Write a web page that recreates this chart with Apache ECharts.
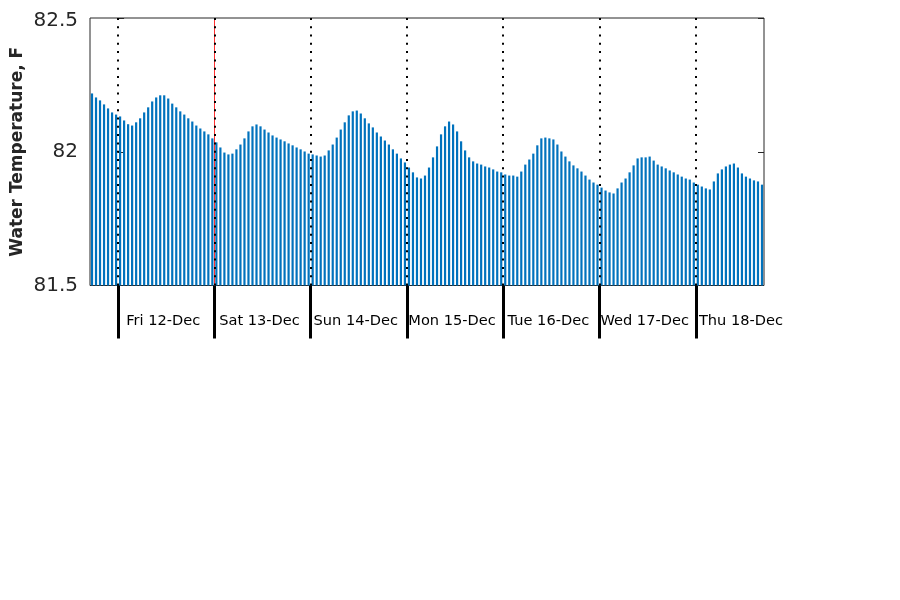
<!DOCTYPE html>
<html>
<head>
<meta charset="utf-8">
<script src="https://cdn.jsdelivr.net/npm/echarts@6/dist/echarts.min.js"></script>
<style>html,body{margin:0;padding:0;background:#fff;}#chart{width:900px;height:600px;}</style>
</head>
<body>
<div id="chart"></div>
<script>
// Hourly water temperature (F), bars centred on half hours, hours relative to Fri 12-Dec 00:00
const firstBarHour = -6.5;
const temps = [
82.218,82.203,82.192,82.177,82.162,82.147,82.139,82.132,82.117,82.103,
82.098,82.110,82.125,82.147,82.166,82.188,82.203,82.211,82.211,82.199,
82.180,82.166,82.151,82.139,82.125,82.113,82.098,82.087,82.076,82.065,
82.050,82.035,82.016,81.997,81.990,81.993,82.009,82.027,82.050,82.076,
82.095,82.102,82.095,82.083,82.072,82.061,82.053,82.046,82.039,82.031,
82.024,82.016,82.009,82.001,81.993,81.990,81.986,81.982,81.986,82.005,
82.027,82.053,82.083,82.110,82.136,82.151,82.154,82.143,82.125,82.106,
82.091,82.072,82.057,82.042,82.027,82.009,81.993,81.975,81.960,81.941,
81.923,81.904,81.900,81.911,81.941,81.979,82.020,82.065,82.095,82.113,
82.102,82.076,82.039,82.005,81.979,81.964,81.956,81.952,81.945,81.941,
81.934,81.926,81.923,81.915,81.911,81.911,81.907,81.926,81.952,81.971,
81.993,82.024,82.050,82.053,82.050,82.046,82.027,82.001,81.982,81.964,
81.949,81.938,81.926,81.911,81.896,81.885,81.877,81.866,81.855,81.848,
81.844,81.863,81.885,81.900,81.923,81.949,81.975,81.979,81.979,81.982,
81.967,81.952,81.945,81.938,81.930,81.923,81.915,81.907,81.900,81.896,
81.885,81.877,81.870,81.863,81.859,81.889,81.919,81.934,81.945,81.952,
81.956,81.941,81.919,81.907,81.900,81.893,81.889,81.877
];
const hours = temps.map((_, i) => firstBarHour + i);
const dayBoundaries = [0, 24, 48, 72, 96, 120, 144];
const dayCenters = [12, 36, 60, 84, 108, 132, 156];
const dayLabels = ['Fri 12-Dec','Sat 13-Dec','Sun 14-Dec','Mon 15-Dec','Tue 16-Dec','Wed 17-Dec','Thu 18-Dec'];
const nowHour = 24;
const yTicks = [81.5, 82, 82.5];
const xMin = -7, xMax = 161;

const chart = echarts.init(document.getElementById('chart'));
chart.setOption({
  animation: false,
  backgroundColor: '#fff',
  textStyle: {fontFamily: 'DejaVu Sans'},
  grid: {left: 90, top: 18, width: 674, height: 267.5, outerBoundsMode: 'none', containLabel: false,
    show: true, borderColor: '#262626', borderWidth: 1, backgroundColor: 'transparent'},
  xAxis: {
    type: 'value', min: xMin, max: xMax,
    axisLine: {show: false},
    splitLine: {show: false},
    axisTick: {show: true, customValues: dayBoundaries, length: 53, inside: false, lineStyle: {color: '#000', width: 3}},
    axisLabel: {show: true, customValues: dayCenters, margin: 28, fontSize: 14.6, color: '#000',
      padding: [0, 6, 0, 0],
      formatter: v => dayLabels[dayCenters.indexOf(v)] || ''}
  },
  yAxis: [{
    type: 'value', min: yTicks[0], max: yTicks[yTicks.length - 1], interval: 0.5,
    name: 'Water Temperature, F', nameLocation: 'middle', nameGap: 64, nameRotate: 90,
    nameMoveOverlap: false,
    nameTextStyle: {fontSize: 17, fontWeight: 'bold', color: '#262626'},
    axisLine: {show: false}, splitLine: {show: false},
    axisTick: {show: true, inside: true, length: 6, lineStyle: {color: '#262626'}},
    axisLabel: {fontSize: 20, color: '#262626', margin: 12,
      formatter: v => v === yTicks[yTicks.length - 1] ? '{top|' + v + '}' : String(v),
      rich: {top: {fontSize: 20, color: '#262626', padding: [6, 0, 0, 0]}}}
  }, {
    type: 'value', position: 'right', min: yTicks[0], max: yTicks[yTicks.length - 1], interval: 0.5,
    axisLine: {show: false}, splitLine: {show: false},
    axisTick: {show: true, inside: true, length: 6, lineStyle: {color: '#262626'}},
    axisLabel: {show: false}
  }],
  series: [{
    type: 'bar',
    data: hours.map((h, i) => [h, temps[i]]),
    barWidth: 2.2,
    itemStyle: {color: '#0072BD'},
    silent: true,
    markLine: {
      silent: true, symbol: 'none', label: {show: false},
      data: [{xAxis: nowHour, lineStyle: {color: '#ff3030', width: 1, type: 'solid'}}]
        .concat(dayBoundaries.map(d => ({xAxis: d, lineStyle: {color: '#000', width: 2, type: [2, 6.3]}})))
    }
  }]
});
</script>
</body>
</html>
